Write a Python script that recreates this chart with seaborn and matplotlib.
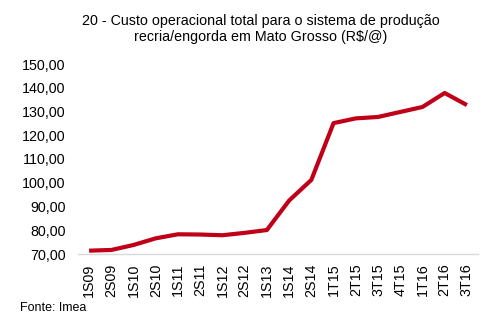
import matplotlib
matplotlib.use("Agg")
import matplotlib.pyplot as plt
from matplotlib.ticker import FuncFormatter, MultipleLocator
import seaborn as sns
import pandas as pd

periods = ["1S09", "2S09", "1S10", "2S10", "1S11", "2S11", "1S12", "2S12", "1S13",
           "1S14", "2S14", "1T15", "2T15", "3T15", "4T15", "1T16", "2T16", "3T16"]
custo = [71.4, 71.7, 73.8, 76.6, 78.3, 78.2, 77.9, 78.9, 80.1,
         92.5, 101.2, 125.1, 127.1, 127.7, 129.8, 131.9, 137.8, 132.7]

title = "20 - Custo operacional total para o sistema de produção\nrecria/engorda em Mato Grosso (R$/@)"
source = "Fonte: Imea"

sns.set_theme(style="white")
plt.rcParams["font.family"] = ["Liberation Sans", "DejaVu Sans"]

df = pd.DataFrame({"periodo": periods, "custo": custo})

fig = plt.figure(figsize=(4.97, 3.36), dpi=100)
ax = fig.add_axes([78/497, 1-254/336, 400/497, 190/336])

sns.lineplot(data=df, x="periodo", y="custo", sort=False, ax=ax,
             color="#C00018", linewidth=3.0, solid_joinstyle="round",
             solid_capstyle="butt")

ax.set_xlim(-0.5, len(periods) - 0.5)
ax.set_ylim(70, 150)
ax.yaxis.set_major_locator(MultipleLocator(10))
ax.yaxis.set_major_formatter(FuncFormatter(lambda v, p: f"{v:.2f}".replace(".", ",")))
ax.set_xlabel("")
ax.set_ylabel("")
ax.tick_params(axis="both", length=0, colors="black")
ax.tick_params(axis="y", pad=9, labelsize=10.3)
ax.tick_params(axis="x", pad=7, labelsize=10.3)
for lab in ax.get_xticklabels():
    lab.set_rotation(90)
for s in ["top", "right", "left"]:
    ax.spines[s].set_visible(False)
ax.spines["bottom"].set_color("#D9D9D9")
ax.spines["bottom"].set_linewidth(1.0)
ax.grid(False)

fig.text(261/497, 1-29/336, title, ha="center", va="center", fontsize=10.3,
         linespacing=1.15, color="black")
fig.text(20/497, 1-308/336, source, ha="left", va="center", fontsize=9,
         color="black")

fig.savefig("out.png", dpi=100, facecolor="white")
